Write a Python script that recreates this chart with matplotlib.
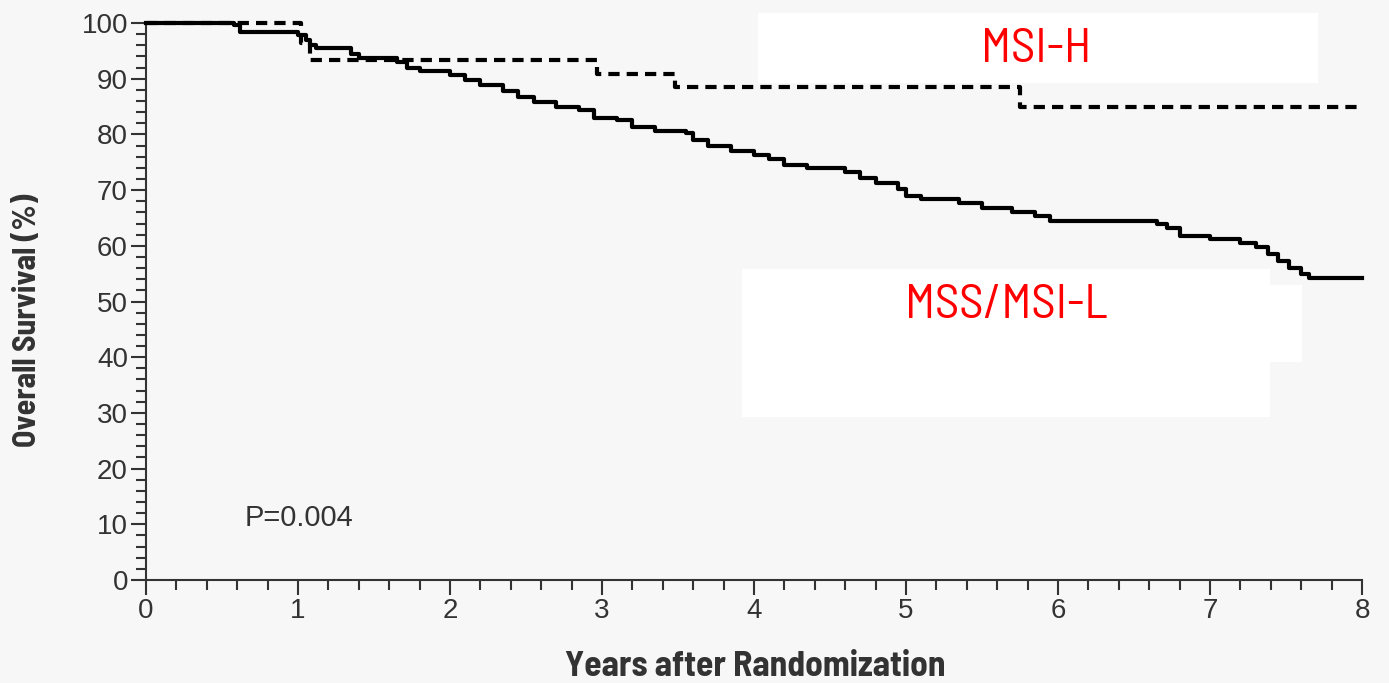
import matplotlib
matplotlib.use('Agg')
import matplotlib.pyplot as plt
from matplotlib import font_manager
from matplotlib.patches import Rectangle, Polygon
from matplotlib.ticker import MultipleLocator

names = {f.name for f in font_manager.fontManager.ttflist}
narrow = 'Barlow Semi Condensed' if 'Barlow Semi Condensed' in names else 'DejaVu Sans'
plain = 'Liberation Sans' if 'Liberation Sans' in names else 'DejaVu Sans'

# MSI-H (dashed) survival curve
msih_years = [0.0, 1.02, 1.08, 2.97, 3.48, 5.75, 8.0]
msih_surv = [100.0, 96.5, 93.3, 90.9, 88.5, 84.9, 84.9]

# MSS/MSI-L (solid) survival curve
mss_years = [0.0, 0.58, 0.62, 1.0, 1.05, 1.08, 1.12, 1.35, 1.40, 1.65, 1.72, 1.80,
             2.0, 2.1, 2.2, 2.35, 2.45, 2.55, 2.7, 2.85, 2.95, 3.1, 3.2, 3.35,
             3.55, 3.6, 3.7, 3.85, 4.0, 4.1, 4.2, 4.35, 4.6, 4.7, 4.8, 4.95,
             5.0, 5.1, 5.35, 5.5, 5.7, 5.85, 5.95, 6.65, 6.72, 6.8, 7.0, 7.2,
             7.3, 7.38, 7.45, 7.52, 7.6, 7.65, 8.0]
mss_surv = [100.0, 99.6, 98.3, 97.8, 97.0, 96.0, 95.5, 94.5, 93.8, 93.0, 92.0, 91.3,
            90.7, 89.8, 88.8, 87.8, 86.8, 85.9, 85.0, 84.4, 83.0, 82.5, 81.3, 80.6,
            80.2, 79.0, 78.0, 77.0, 76.3, 75.6, 74.5, 74.0, 73.2, 72.2, 71.2, 70.2,
            69.0, 68.4, 67.7, 66.7, 66.0, 65.3, 64.5, 64.0, 63.2, 61.8, 61.2, 60.5,
            59.8, 58.5, 57.2, 56.0, 55.0, 54.3, 54.3]

x_ticks = [0, 1, 2, 3, 4, 5, 6, 7, 8]
y_ticks = [0, 10, 20, 30, 40, 50, 60, 70, 80, 90, 100]

bg = '#f7f7f7'
ink = '#333333'

fig = plt.figure(figsize=(13.89, 6.83), dpi=100, facecolor=bg)
ax = fig.add_axes([0.1051, 0.1508, 0.8755, 0.8155], facecolor=bg)

ax.plot(mss_years, mss_surv, drawstyle='steps-post', color='black', lw=3.0,
        clip_on=False, zorder=3)
ax.plot(msih_years, msih_surv, drawstyle='steps-post', color='black', lw=3.0,
        dashes=(2.7, 1.7), clip_on=False, zorder=3)

ax.set_xlim(0, 8)
ax.set_ylim(0, 100)
ax.set_xticks(x_ticks)
ax.set_yticks(y_ticks)
ax.xaxis.set_minor_locator(MultipleLocator(0.2))
ax.yaxis.set_minor_locator(MultipleLocator(2))
ax.tick_params(which='major', direction='out', length=11, width=1.5, color=ink,
               labelsize=20, labelcolor=ink, pad=2)
ax.tick_params(which='minor', direction='out', length=7, width=1.5, color=ink)
for lab in ax.get_xticklabels() + ax.get_yticklabels():
    lab.set_fontfamily(plain)

for s in ['top', 'right']:
    ax.spines[s].set_visible(False)
for s in ['left', 'bottom']:
    ax.spines[s].set_color(ink)
    ax.spines[s].set_linewidth(1.5)

# white label boxes
ax.add_patch(Rectangle((4.026, 89.2), 7.711 - 4.026, 101.8 - 89.2, facecolor='white',
                       edgecolor='none', clip_on=False, zorder=2))
ax.add_patch(Polygon([(3.921, 55.8), (7.395, 55.8), (7.395, 53.0), (7.605, 53.0),
                      (7.605, 39.1), (7.395, 39.1), (7.395, 29.3), (3.921, 29.3)],
                     closed=True, facecolor='white', edgecolor='none', zorder=2))

ax.text(5.855, 95.2, 'MSI-H', color='red', fontsize=35, family=narrow,
        ha='center', va='center', zorder=4)
ax.text(5.658, 49.2, 'MSS/MSI-L', color='red', fontsize=35, family=narrow,
        ha='center', va='center', zorder=4)
ax.text(0.65, 11.1, 'P=0.004', color=ink, fontsize=21, family=plain,
        ha='left', va='center')

fig.text(0.0195, 0.531, 'Overall Survival (%)', rotation=90, fontsize=23,
         fontweight='bold', family=narrow, color=ink, ha='center', va='center')
fig.text(0.544, 0.024, 'Years after Randomization', fontsize=25.5,
         fontweight='bold', family=narrow, color=ink, ha='center', va='center')

fig.savefig('out.png', dpi=100, facecolor=bg)
